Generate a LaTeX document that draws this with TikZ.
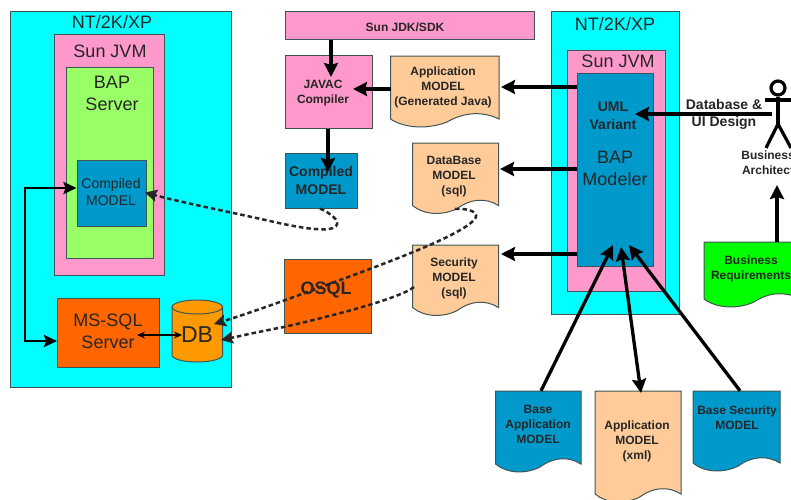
\documentclass[tikz,border=0pt]{standalone}
\usepackage{fontspec}
\setmainfont{Liberation Sans}
\usetikzlibrary{arrows.meta,calc}
\definecolor{cCyan}{HTML}{00FFFF}
\definecolor{cPink}{HTML}{FF99CC}
\definecolor{cLime}{HTML}{99FF66}
\definecolor{cBlue}{HTML}{0099CC}
\definecolor{cOrange}{HTML}{FF6600}
\definecolor{cPeach}{HTML}{FFCC99}
\definecolor{cAmber}{HTML}{FF9900}
\definecolor{cGreen}{HTML}{00FF00}
\definecolor{cEdge}{HTML}{3F5555}
\tikzset{
  edge/.style={draw=cEdge,line width=1pt},
  bold12/.style={font=\fontsize{12}{15}\selectfont\bfseries,align=center,inner sep=0pt,text=black!85,yshift=-1.2pt},
  bold14/.style={font=\fontsize{14}{18}\selectfont\bfseries,align=center,inner sep=0pt,text=black!85},
  plain18/.style={font=\fontsize{18}{22}\selectfont,align=center,inner sep=0pt,text=black!85},
  plain14/.style={font=\fontsize{14}{17}\selectfont,align=center,inner sep=0pt,text=black!85},
  thickarrow/.style={line width=3.3pt,draw=black,-{Stealth[length=14pt,width=14pt,inset=2pt]}},
  dbl/.style={line width=3.3pt,draw=black,{Stealth[length=14pt,width=14pt,inset=2pt]}-{Stealth[length=14pt,width=14pt,inset=2pt]}},
  dashline/.style={line width=2.5pt,draw=black!85,dash pattern=on 4.5pt off 3pt,-{Stealth[length=12pt,width=12pt,inset=2pt]}},
}
% name, x0, y0, x1, y1, fill
\newcommand{\bx}[6]{\node[edge,fill=#6,inner sep=0pt,minimum width={(#4-#2)*1pt},minimum height={(#5-#3)*1pt},anchor=center] (#1) at ({(#2+#4)/2},{(#3+#5)/2}) {};}
% wavy-bottomed document: name, x0, y0, x1, y1(lowest), fill
\newcommand{\docu}[6]{%
  \pgfmathsetmacro{\dw}{#4-#2}%
  \draw[edge,fill=#6] (#2,#3) -- (#4,#3) -- (#4,#5-9)
    .. controls ({#4-0.15*\dw},#5-17) and ({#4-0.32*\dw},#5-16) .. ({#2+0.52*\dw},#5-6)
    .. controls ({#2+0.36*\dw},#5+1) and ({#2+0.14*\dw},#5+1) .. (#2,#5-9) -- cycle;
  \node[inner sep=0pt,minimum width={(#4-#2)*1pt},minimum height={(#5-#3)*1pt}] (#1) at ({(#2+#4)/2},{(#3+#5)/2}) {};}
\begin{document}
\begin{tikzpicture}[x=1pt,y=-1pt]
\useasboundingbox (0,0) rectangle (791,499);
\clip (0,0) rectangle (791,499);
\fill[white] (0,0) rectangle (791,499);
% left stack
\bx{leftos}{10.5}{11}{231}{387}{cCyan}
\bx{leftjvm}{54.5}{34}{164.5}{275}{cPink}
\bx{server}{66}{67}{153.5}{258}{cLime}
\bx{runmodel}{77}{160}{146}{226}{cBlue}
\bx{mssql}{57.5}{298}{159}{367}{cOrange}
\draw[edge,fill=cAmber] (172,307) arc[start angle=180,end angle=360,x radius=25.25,y radius=7] -- (222.5,355) arc[start angle=0,end angle=180,x radius=25.25,y radius=7] -- cycle;
\draw[edge] (172,307) arc[start angle=180,end angle=0,x radius=25.25,y radius=7];
\node[inner sep=0pt,minimum width=50pt,minimum height=62pt] (db) at (197.25,331) {};
\node[plain18] (t1) at (112,22) {NT/2K/XP};
\node[plain18] (t2) at (110,51) {Sun JVM};
\node[plain18] (t3) at (112,93) {BAP\\Server};
\node[plain14] (t4) at (111,191.5) {Compiled\\MODEL};
\node[plain18] (t5) at (108,331.5) {MS-SQL\\Server};
\node[font=\fontsize{23}{23}\selectfont,inner sep=0pt,text=black!85] (t6) at (197,335) {DB};
% middle
\bx{jdk}{285}{11}{534}{39}{cPink}
\bx{javac}{285}{55}{372}{128}{cPink}
\bx{compiled}{285}{153.5}{357.5}{208}{cBlue}
\bx{osql}{284}{259}{371}{333}{cOrange}
\docu{appjava}{390.5}{56}{499}{128}{cPeach}
\docu{dbmodel}{412.5}{143}{498.5}{214.5}{cPeach}
\docu{secmodel}{412.5}{245}{498.5}{316.5}{cPeach}
\node[bold12] (t7) at (405,26) {Sun JDK/SDK};
\node[bold12] (t8) at (323,91.5) {JAVAC\\Compiler};
\node[bold14] (t9) at (321,180) {Compiled\\MODEL};
\node[font=\fontsize{18}{18}\selectfont\bfseries,inner sep=0pt,text=black!85] (t10) at (326,290) {OSQL};
\node[bold12] (t11) at (443,86) {Application\\MODEL\\(Generated Java)};
\node[bold12] (t12) at (454,175.5) {DataBase\\MODEL\\(sql)};
\node[bold12] (t13) at (454,277.5) {Security\\MODEL\\(sql)};
% right stack
\bx{rightos}{551}{11}{679}{314}{cCyan}
\bx{rightjvm}{567}{50}{665}{291}{cPink}
\bx{modeler}{577.5}{73}{653}{266}{cBlue}
\node[plain18] (t14) at (615,24) {NT/2K/XP};
\node[plain18] (t15) at (618,61) {Sun JVM};
\node[bold14] (t16) at (613,116) {UML\\Variant};
\node[plain18] (t17) at (615,168) {BAP\\Modeler};
% bottom documents
\docu{baseapp}{495.5}{391}{581}{473}{cBlue}
\docu{appxml}{595}{391}{681}{503}{cPeach}
\docu{basesec}{693}{391}{780}{472}{cBlue}
\docu{bizreq}{704}{242}{800}{308}{cGreen}
\node[bold12] (t18) at (538,423) {Base\\Application\\MODEL};
\node[bold12] (t19) at (637,440) {Application\\MODEL\\(xml)};
\node[bold12] (t20) at (737,416.5) {Base Security\\MODEL};
\node[bold12] (t21) at (751,267.5) {Business\\Requirements};
% actor
\node[draw=black,line width=3.2pt,circle,inner sep=0pt,minimum size=14pt] (head) at (778,88) {};
\coordinate (hip) at (778,124);
\draw[line width=3.2pt] (head.south) -- (hip);
\draw[line width=3.2pt] (765,100) -- (791,100);
\draw[line width=3.2pt] (766,148) -- (hip) -- (791,148);
\node[bold12] (t22) at (768,162) {Business\\Architect};
\node[font=\fontsize{14}{17}\selectfont\bfseries,align=center,inner sep=0pt,text=black!85] (t23) at (724,114.5) {Database \&\\UI Design};
% solid arrows
\draw[thickarrow] (331,0 |- jdk.south) -- (331,77);
\draw[thickarrow] (390.5,89) -- (353,89);
\draw[thickarrow] (328,0 |- javac.south) -- (328,172);
\draw[thickarrow] (modeler.west |- 0,87) -- (501,87);
\draw[thickarrow] (modeler.west |- 0,169) -- (500,169);
\draw[thickarrow] (modeler.west |- 0,254) -- (501,254);
\draw[thickarrow] (541,0 |- baseapp.north) -- (613,245);
\draw[dbl] (641,393) -- (621,247);
\draw[thickarrow] (740,0 |- basesec.north) -- (629,245);
\draw[thickarrow] (772,114) -- (635,114);
\draw[thickarrow] (777,0 |- bizreq.north) -- (777,185);
% left links
\draw[line width=2.8pt,{Stealth[length=13pt,width=12pt,inset=2pt]}-{Stealth[length=13pt,width=12pt,inset=2pt]}] (runmodel.west |- 0,188) -| (25,341) -- (mssql.west |- 0,341);
\draw[line width=1.4pt,{Stealth[length=8pt,width=7pt]}-{Stealth[length=8pt,width=7pt]}] (137,335) -- (182,335);
% dashed links
\draw[dashline] (320,208.5) .. controls (330,213) and (341,221) .. (336,226) .. controls (330,233) and (300,228) .. (270,221) .. controls (225,211) and (180,202) .. (145,192.5);
\draw[dashline] (455,209) .. controls (470,208) and (481,213) .. (474,220) .. controls (460,235) and (400,258) .. (340,280) .. controls (300,295) and (250,313) .. (214,324);
\draw[dashline] (414,287) .. controls (400,298) and (340,314) .. (284,327) .. controls (262,331) and (240,336) .. (221,340);
\end{tikzpicture}
\end{document}
